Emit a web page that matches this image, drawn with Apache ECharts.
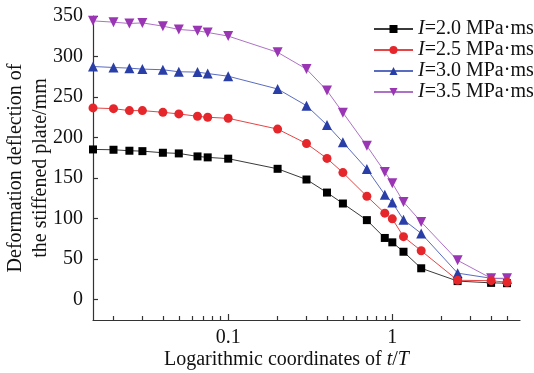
<!DOCTYPE html>
<html>
<head>
<meta charset="utf-8">
<script src="https://cdn.jsdelivr.net/npm/echarts@6/dist/echarts.min.js"></script>
<style>html,body{margin:0;padding:0;background:#fff}#c{width:534px;height:373px}</style>
</head>
<body>
<div id="c"></div>
<script>
const tRatio = [0.015,0.02,0.025,0.03,0.04,0.05,0.065,0.075,0.1,0.2,0.3,0.4,0.5,0.7,0.9,1,1.17,1.5,2.5,4,5];
const seriesNames = ['I=2.0 MPa·ms','I=2.5 MPa·ms','I=3.0 MPa·ms','I=3.5 MPa·ms'];
const defl20 = [185.4,185,183.8,183.3,181.3,180.5,176.8,175.6,174,161.5,148.3,132.2,118.7,98.2,76.2,70.8,59.2,38.8,23,20.8,20.4];
const defl25 = [236.6,235.7,233.3,233.3,231.2,229.2,226.3,225.1,223.8,210.5,192.6,174.3,156.8,127.6,106.8,99.8,77.8,60.4,24,23.5,21.6];
const defl30 = [287.7,286.5,285.7,284.5,283.7,281.2,280.8,279,275.7,260,239.4,215.6,194.3,161.2,129.6,119.9,98.7,81.8,32.8,26.5,25.7];
const defl35 = [344,342.4,340.8,341.5,337.5,333.4,331.7,329.7,325.2,305.2,284.5,258,230.8,189.8,157.7,143.8,120.6,96,48.6,26.5,26.5];
const yTicks = [0,50,100,150,200,250,300,350];
const xLabelTicks = [0.1,1];
const xMinorTicks = [0.02,0.03,0.04,0.05,0.06,0.07,0.08,0.09,0.2,0.3,0.4,0.5,0.6,0.7,0.8,0.9,2,3,4,5];

const FONT = '"Liberation Serif","Times New Roman",serif';
const styles = [
  {symbol:'rect', size:8, rot:0, mark:'#000000', line:'#3a3a3a'},
  {symbol:'circle', size:9, rot:0, mark:'#e5262b', line:'#e54545'},
  {symbol:'triangle', size:10, rot:0, mark:'#2a3ea8', line:'#5a6cc0'},
  {symbol:'triangle', size:10, rot:180, mark:'#9a36b4', line:'#ad72c6'}
];
const allData = [defl20, defl25, defl30, defl35];

const chart = echarts.init(document.getElementById('c'), null, {renderer:'canvas'});
const axisLineStyle = {color:'#333', width:1.2};
chart.setOption({
  animation:false,
  backgroundColor:'#fff',
  grid:{left:93, right:14, top:16, bottom:53, containLabel:false, outerBoundsMode:'none'},
  legend:{
    orient:'vertical', left:368, top:14, itemWidth:39, itemHeight:10, itemGap:1,
    data: seriesNames,
    formatter: n => '{i|I}' + n.slice(1),
    textStyle:{fontFamily:FONT, fontSize:20, color:'#111', lineHeight:14,
      rich:{i:{fontFamily:FONT, fontSize:20, fontStyle:'italic', color:'#111', lineHeight:14}}}
  },
  xAxis:[{
    type:'log', logBase:10, min:0.015, max:6,
    name:'Logarithmic coordinates of {i|t}/{i|T}', nameLocation:'middle', nameGap:30, nameMoveOverlap:false,
    nameTextStyle:{fontFamily:FONT, fontSize:20, color:'#111', padding:[0,40,0,0],
      rich:{i:{fontFamily:FONT, fontSize:20, fontStyle:'italic', color:'#111'}}},
    axisLine:{show:true, onZero:false, lineStyle:axisLineStyle},
    axisTick:{show:true, inside:true, length:6, customValues:xLabelTicks, lineStyle:axisLineStyle},
    axisLabel:{show:true, customValues:xLabelTicks, margin:8, fontFamily:FONT, fontSize:20, color:'#111',
      formatter: v => String(v)},
    splitLine:{show:false}, minorTick:{show:false}
  },{
    type:'log', logBase:10, min:0.015, max:6, gridIndex:0, position:'bottom',
    axisLine:{show:false, onZero:false},
    axisTick:{show:true, inside:true, length:4, customValues:xMinorTicks, lineStyle:axisLineStyle},
    axisLabel:{show:false}, splitLine:{show:false}
  }],
  yAxis:{
    type:'value', min:-25, max:350,
    name:'Deformation deflection of\nthe stiffened plate/mm', nameLocation:'middle', nameGap:40, nameRotate:90,
    nameMoveOverlap:false,
    nameTextStyle:{fontFamily:FONT, fontSize:20, color:'#111', lineHeight:25},
    axisLine:{show:true, onZero:false, lineStyle:axisLineStyle},
    axisTick:{show:true, inside:true, length:5, customValues:yTicks, lineStyle:axisLineStyle},
    axisLabel:{customValues:yTicks, margin:10, fontFamily:FONT, fontSize:20, color:'#111'},
    splitLine:{show:false}
  },
  series: seriesNames.map((n,k) => ({
    name:n, type:'line', xAxisIndex:0,
    data: tRatio.map((t,i) => [t, allData[k][i]]),
    symbol:styles[k].symbol, symbolSize:styles[k].size, symbolRotate:styles[k].rot,
    showAllSymbol:true,
    itemStyle:{color:styles[k].mark},
    lineStyle:{color:styles[k].line, width:1},
    z: 2 + (k===1 ? 2 : k===0 ? 1 : 0)
  }))
});
</script>
</body>
</html>
